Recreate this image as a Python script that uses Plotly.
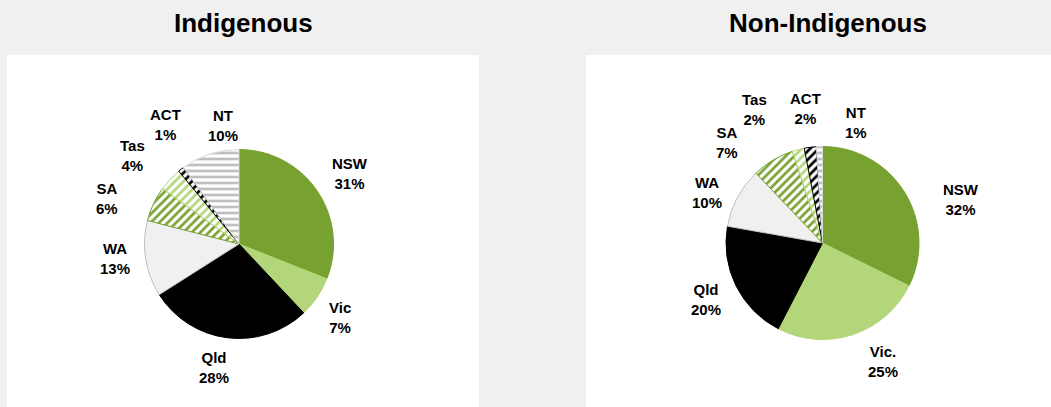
import math
import plotly.graph_objects as go

# Data
indig_labels = ["NSW", "Vic", "Qld", "WA", "SA", "Tas", "ACT", "NT"]
indig_pct = [31, 7, 28, 13, 6, 4, 1, 10]
nonindig_labels = ["NSW", "Vic.", "Qld", "WA", "SA", "Tas", "ACT", "NT"]
nonindig_pct = [32, 25, 20, 10, 7, 2, 2, 1]
titles = ["Indigenous", "Non-Indigenous"]

# Styles
fill_colors = ["#78a22f", "#b3d67a", "#000000", "#f0f0f0", "#ffffff", "#ffffff", "#ffffff", "#ffffff"]
pat_shapes = ["", "", "", "", "/", "/", "/", "-"]
pat_fg = ["#78a22f", "#b3d67a", "#000000", "#f0f0f0", "#78a22f", "#b3d67a", "#000000", "#bfbfbf"]
pat_bg = ["#78a22f", "#b3d67a", "#000000", "#f0f0f0", "#ffffff", "#ffffff", "#ffffff", "#ffffff"]
line_colors = ["#78a22f", "#b3d67a", "#000000", "#bfbfbf", "#78a22f", "#b3d67a", "#000000", "#d9d9d9"]

# label placement (style): angular nudge (deg) and distance as multiple of radius
indig_label_nudge = [1.6, 2, 4.3, 2.1, -6.4, -3.5, 6.3, 10.3]
indig_label_dist = [1.39, 1.32, 1.33, 1.32, 1.48, 1.46, 1.48, 1.27]
nonindig_label_nudge = [14.5, -8.8, 0.3, -4.6, -12.6, -12.4, 0, 17.2]
nonindig_label_dist = [1.50, 1.38, 1.34, 1.31, 1.44, 1.55, 1.41, 1.30]

W, H = 1051, 407
BG = "#f0f0f0"
FONT = "Liberation Sans, Arial, sans-serif"


def pie(labels, pct, cx, cy, r):
    return go.Pie(
        labels=labels,
        values=pct,
        textinfo="none",
        sort=False,
        direction="clockwise",
        rotation=0,
        marker=dict(
            colors=fill_colors,
            line=dict(color=line_colors, width=1),
            pattern=dict(shape=pat_shapes, fgcolor=pat_fg, bgcolor=pat_bg,
                         size=6, solidity=0.45, fillmode="replace"),
        ),
        domain=dict(x=[(cx - r) / W, (cx + r) / W], y=[1 - (cy + r) / H, 1 - (cy - r) / H]),
        hoverinfo="skip",
        showlegend=False,
    )


def pie_labels(labels, pct, cx, cy, r, nudge, dist):
    total = sum(pct)
    anns = []
    cum = 0
    for lab, v, nd, k in zip(labels, pct, nudge, dist):
        mid = (cum + v / 2) / total * 360 + nd
        cum += v
        px = cx + k * r * math.sin(math.radians(mid))
        py = cy - k * r * math.cos(math.radians(mid))
        anns.append(dict(text=f"{lab}<br>{v}%", x=px / W, y=1 - py / H, xref="paper", yref="paper",
                         showarrow=False, xanchor="center", yanchor="middle",
                         font=dict(family=FONT, size=15, color="#000000", weight="bold")))
    return anns


pies = [(indig_labels, indig_pct, 239, 244, 94.5, indig_label_nudge, indig_label_dist),
        (nonindig_labels, nonindig_pct, 822.5, 243, 96.5, nonindig_label_nudge, nonindig_label_dist)]

fig = go.Figure()
annotations = []
for labs, vals, cx, cy, r, nd, ds in pies:
    fig.add_trace(pie(labs, vals, cx, cy, r))
    annotations += pie_labels(labs, vals, cx, cy, r, nd, ds)

shapes = [
    dict(type="rect", xref="paper", yref="paper", x0=7 / W, x1=479 / W, y0=0, y1=1 - 55 / H,
         fillcolor="#ffffff", line=dict(width=0), layer="below"),
    dict(type="rect", xref="paper", yref="paper", x0=586 / W, x1=1.0, y0=0, y1=1 - 55 / H,
         fillcolor="#ffffff", line=dict(width=0), layer="below"),
]

for t, cx in zip(titles, [243, 827.5]):
    annotations.append(dict(text=t, x=cx / W, y=1 - 23 / H, xref="paper", yref="paper", showarrow=False,
                            font=dict(family=FONT, size=26, color="#000000", weight="bold"),
                            xanchor="center", yanchor="middle"))

fig.update_layout(
    width=W, height=H,
    margin=dict(l=0, r=0, t=0, b=0),
    paper_bgcolor=BG, plot_bgcolor=BG,
    shapes=shapes, annotations=annotations,
)

fig.write_html("out.html", config={"displayModeBar": False},
               post_script="document.body.style.margin='0px';")
